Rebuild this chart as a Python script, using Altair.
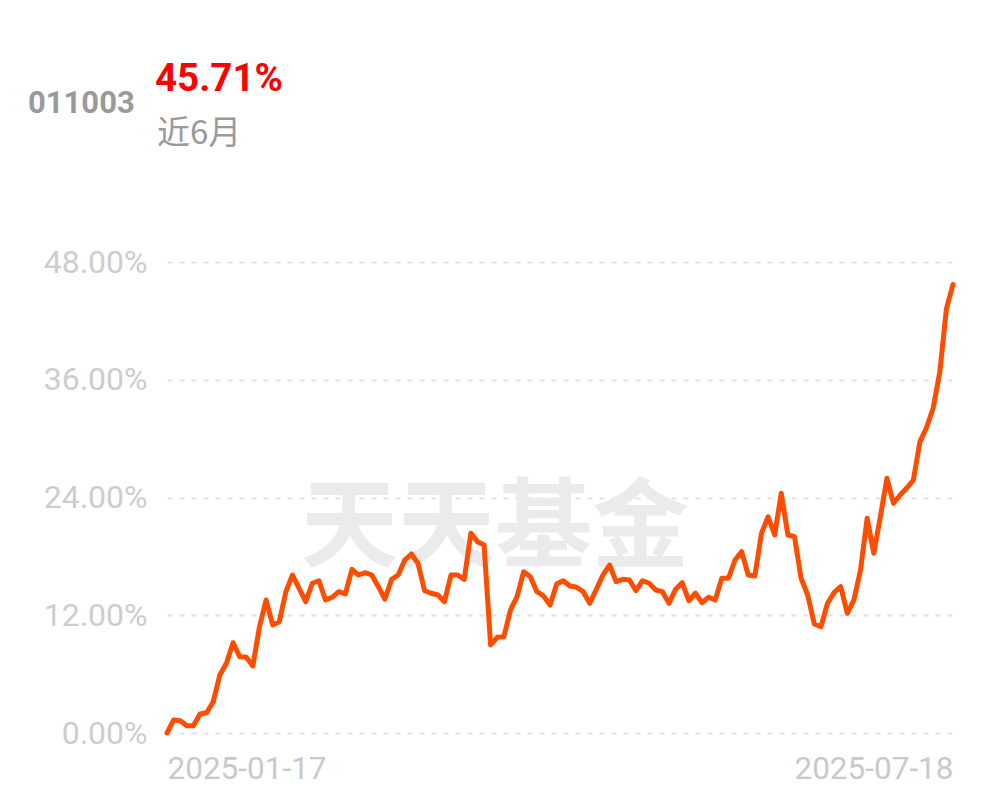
import altair as alt
import pandas as pd

fund_code = "011003"
headline = "45.71%"
period_label = "近6月"
watermark = "天天基金"
x_labels = ["2025-01-17", "2025-07-18"]
y_ticks = [0, 12, 24, 36, 48]

returns = [
    0.00, 1.32, 1.25, 0.74, 0.74, 1.94, 2.07, 3.19, 5.91, 7.10,
    9.20, 7.78, 7.71, 6.83, 10.83, 13.55, 11.01, 11.34, 14.40, 16.10,
    14.75, 13.38, 15.26, 15.52, 13.55, 13.83, 14.40, 14.17, 16.68, 16.10,
    16.34, 16.10, 14.91, 13.63, 15.66, 16.10, 17.63, 18.24, 17.29, 14.50,
    14.24, 14.06, 13.38, 16.10, 16.10, 15.66, 20.35, 19.50, 19.16, 8.97,
    9.75, 9.81, 12.53, 13.89, 16.44, 15.93, 14.40, 13.96, 13.04, 15.18,
    15.52, 14.98, 14.85, 14.40, 13.22, 14.64, 16.10, 17.12, 15.42, 15.66,
    15.59, 14.50, 15.52, 15.26, 14.57, 14.40, 13.22, 14.64, 15.32, 13.48,
    14.24, 13.28, 13.83, 13.55, 15.77, 15.77, 17.63, 18.48, 16.10, 16.00,
    20.35, 22.04, 20.18, 24.43, 20.18, 20.01, 15.77, 14.06, 11.11, 10.83,
    13.22, 14.30, 14.91, 12.20, 13.55, 16.61, 21.88, 18.31, 22.04, 25.96,
    23.41, 24.25, 24.97, 25.78, 29.69, 31.13, 33.12, 36.79, 43.21, 45.71,
]

n = len(returns)
df = pd.DataFrame({"idx": list(range(n)), "ret": returns})

label_expr = (
    f"datum.value == 0 ? '{x_labels[0]}' : '{x_labels[1]}'"
)

base = alt.Chart(df)

line = base.mark_line(
    color="#ff4d00", strokeWidth=5, strokeJoin="round", strokeCap="round"
).encode(
    x=alt.X(
        "idx:Q",
        scale=alt.Scale(domain=[0, n - 1], nice=False, zero=False),
        axis=alt.Axis(
            values=[0, n - 1],
            labelExpr=label_expr,
            labelFlush=True,
            grid=False,
            domain=False,
            ticks=False,
            title=None,
            labelFont="Roboto",
            labelFontSize=31.5,
            labelColor="#c9c9c9",
            labelPadding=20,
        ),
    ),
    y=alt.Y(
        "ret:Q",
        scale=alt.Scale(domain=[0, 48], nice=False),
        axis=alt.Axis(
            values=y_ticks,
            labelExpr="format(datum.value, '.2f') + '%'",
            grid=True,
            gridColor="#e2e2e2",
            gridDash=[5, 7],
            gridWidth=2,
            domain=False,
            ticks=False,
            title=None,
            labelFont="Roboto",
            labelFontSize=32,
            labelColor="#cdcdcd",
            labelPadding=20,
        ),
    ),
)

wm = alt.Chart(pd.DataFrame({"t": [watermark]})).mark_text(
    font="Noto Sans CJK SC", fontSize=97, fontWeight="bold", color="#ebebeb",
    align="center", baseline="middle",
).encode(text="t:N", x=alt.value(328), y=alt.value(268))

code_txt = alt.Chart(pd.DataFrame({"t": [fund_code]})).mark_text(
    font="Roboto", fontSize=31, fontWeight="bold", color="#9a9a9a",
    align="left", baseline="middle",
).encode(text="t:N", x=alt.value(-139), y=alt.value(-158))

head_txt = alt.Chart(pd.DataFrame({"t": [headline]})).mark_text(
    font="Roboto", fontSize=38.5, fontWeight="bold", color="#ff0000",
    align="left", baseline="middle",
).encode(text="t:N", x=alt.value(-12), y=alt.value(-183))

period_txt = alt.Chart(pd.DataFrame({"t": [period_label]})).mark_text(
    font="Noto Sans CJK SC", fontSize=33, color="#9a9a9a",
    align="left", baseline="middle",
).encode(text="t:N", x=alt.value(-10), y=alt.value(-128))

chart = alt.layer(wm, line, code_txt, head_txt, period_txt).properties(
    width=786,
    height=471,
    autosize=alt.AutoSizeParams(type="none"),
    padding={"left": 159, "top": 254, "right": 30, "bottom": 60},
    background="white",
).configure_view(stroke=None)

chart.save("out.html", embed_options={"renderer": "svg", "actions": False})
